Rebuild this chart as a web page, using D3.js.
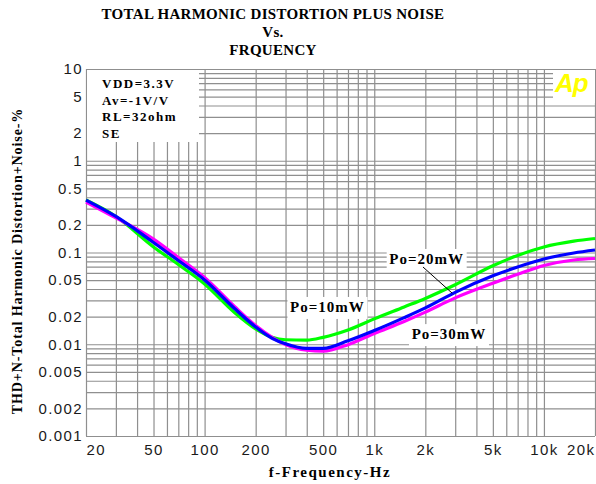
<!DOCTYPE html>
<html>
<head>
<meta charset="utf-8">
<script src="https://cdn.jsdelivr.net/npm/d3@7"></script>
<style>
  body { margin: 0; background: #fff; }
  svg { display: block; }
  .tick text { font-family: "Liberation Sans", Arial, sans-serif; font-size: 15px; letter-spacing: 1.4px; fill: #1a1a1a; }
  .grid line { stroke: #8f8f8f; stroke-width: 1.2px; }
  .serif { font-family: "Liberation Serif", "Times New Roman", serif; font-weight: bold; fill: #000; }
</style>
</head>
<body>
<svg id="chart" width="596" height="484"></svg>
<script>
// frequency points (Hz)
var freqHz = [20, 30, 50, 70, 100, 150, 200, 250, 300, 400, 500, 700, 1000, 1500, 2000, 3000, 5000, 7000, 10000, 15000, 20000];
// THD+N in %
var thd10mW = [0.373, 0.247, 0.115, 0.074, 0.0454, 0.0222, 0.0147, 0.0119, 0.0112, 0.0111, 0.0119, 0.0143, 0.0189, 0.0255, 0.0316, 0.0445, 0.0716, 0.093, 0.115, 0.133, 0.142];
var thd20mW = [0.373, 0.247, 0.1285, 0.0818, 0.0502, 0.0245, 0.0154, 0.0116, 0.0101, 0.0090, 0.0090, 0.0109, 0.0141, 0.0195, 0.0249, 0.0368, 0.0557, 0.0695, 0.0849, 0.0988, 0.1065];
var thd30mW = [0.355, 0.238, 0.140, 0.0882, 0.0534, 0.0258, 0.0160, 0.0119, 0.0099, 0.0086, 0.0084, 0.0099, 0.0131, 0.0177, 0.0224, 0.0320, 0.0462, 0.0578, 0.0722, 0.0829, 0.086];

var xTickValues = [20, 50, 100, 200, 500, 1000, 2000, 5000, 10000, 20000];
var xTickLabels = ["20", "50", "100", "200", "500", "1k", "2k", "5k", "10k", "20k"];
var yTickValues = [10, 5, 2, 1, 0.5, 0.2, 0.1, 0.05, 0.02, 0.01, 0.005, 0.002, 0.001];
var yTickLabels = ["10", "5", "2", "1", "0.5", "0.2", "0.1", "0.05", "0.02", "0.01", "0.005", "0.002", "0.001"];

var conditions = ["VDD=3.3V", "Av=-1V/V", "RL=32ohm", "SE"];

var svg = d3.select("#chart");
var padLeft = 86, padRight = 595, padTop = 69, padBottom = 436;

var xScale = d3.scaleLog().domain([20, 20000]).range([padLeft, padRight]);
var yScale = d3.scaleLog().domain([0.001, 10]).range([padBottom, padTop]);

// grid
svg.append("g")
    .attr("class", "grid")
    .attr("transform", "translate(0," + padBottom + ")")
    .call(d3.axisBottom(xScale).tickValues(xScale.ticks()).tickSize(-(padBottom - padTop)).tickFormat(""))
    .call(function (g) { g.select(".domain").remove(); });
svg.append("g")
    .attr("class", "grid")
    .attr("transform", "translate(" + padLeft + ",0)")
    .call(d3.axisLeft(yScale).tickValues(yScale.ticks()).tickSize(-(padRight - padLeft)).tickFormat(""))
    .call(function (g) { g.select(".domain").remove(); });

// white boxes behind the texts
svg.append("rect").attr("x", padLeft + 1).attr("y", padTop + 1).attr("width", 112).attr("height", 72).attr("fill", "#fff");
svg.append("rect").attr("x", 553).attr("y", padTop + 1).attr("width", 42).attr("height", 33).attr("fill", "#fff");

// axis labels
var yAxis = svg.append("g")
    .attr("transform", "translate(" + padLeft + ",0)")
    .call(d3.axisLeft(yScale).tickValues(yTickValues).tickSize(0).tickPadding(3)
        .tickFormat(function (d, i) { return yTickLabels[i]; }));
yAxis.select(".domain").remove();

var xAxis = svg.append("g")
    .attr("transform", "translate(0," + padBottom + ")")
    .call(d3.axisBottom(xScale).tickValues(xTickValues).tickSize(0).tickPadding(8)
        .tickFormat(function (d, i) { return xTickLabels[i]; }));
xAxis.select(".domain").remove();
xAxis.selectAll(".tick text")
    .attr("text-anchor", function (d, i) {
        if (i == 0) return "start";
        if (i == xTickValues.length - 1) return "end";
        return "middle";
    });

// curves
var line = d3.line()
    .x(function (d) { return xScale(d[0]); })
    .y(function (d) { return yScale(d[1]); })
    .curve(d3.curveMonotoneX);

var series = [
    { name: "Po=10mW", values: thd10mW, color: "#00ff00" },
    { name: "Po=30mW", values: thd30mW, color: "#ff00ff" },
    { name: "Po=20mW", values: thd20mW, color: "#0000ff" }
];
series.forEach(function (s) {
    svg.append("path")
        .datum(freqHz.map(function (f, i) { return [f, s.values[i]]; }))
        .attr("fill", "none")
        .attr("stroke", s.color)
        .attr("stroke-width", 3.2)
        .attr("d", line);
});

// condition texts
svg.selectAll(".cond")
    .data(conditions)
    .enter()
    .append("text")
    .attr("class", "serif")
    .attr("x", 102)
    .attr("y", function (d, i) { return 88 + i * 16.5; })
    .style("font-size", "13px")
    .style("letter-spacing", "1.5px")
    .text(function (d) { return d; });

// Ap logo
svg.append("text")
    .attr("x", 555)
    .attr("y", 92)
    .style("font-family", "Liberation Sans, Arial, sans-serif")
    .style("font-weight", "bold")
    .style("font-style", "italic")
    .style("font-size", "26px")
    .style("letter-spacing", "-1px")
    .attr("fill", "#ffff00")
    .text("Ap");

// curve labels
var labels = [
    { text: "Po=10mW", f: 530, v: 0.0255 },
    { text: "Po=20mW", f: 2037, v: 0.085 },
    { text: "Po=30mW", f: 2757, v: 0.0129 }
];
labels.forEach(function (l) {
    var cx = xScale(l.f), cy = yScale(l.v);
    svg.append("rect")
        .attr("x", cx - 40).attr("y", cy - 10)
        .attr("width", 80).attr("height", 22)
        .attr("fill", "#fff");
    svg.append("text")
        .attr("class", "serif")
        .attr("x", cx)
        .attr("y", cy + 5)
        .attr("text-anchor", "middle")
        .style("font-size", "15px")
        .style("letter-spacing", "1px")
        .text(l.text);
});

// leader for Po=20mW
svg.append("line")
    .attr("x1", xScale(1937)).attr("y1", yScale(0.0695))
    .attr("x2", xScale(2880)).attr("y2", yScale(0.036))
    .attr("stroke", "#000")
    .attr("stroke-width", 1);

// titles
var titleLines = ["TOTAL HARMONIC DISTORTION PLUS NOISE", "Vs.", "FRQUENCY"];
svg.selectAll(".title")
    .data(titleLines)
    .enter()
    .append("text")
    .attr("class", "serif")
    .attr("x", 273)
    .attr("y", function (d, i) { return [19, 37, 55][i]; })
    .attr("text-anchor", "middle")
    .style("font-size", "15px")
    .style("letter-spacing", "0.3px")
    .text(function (d) { return d; });

svg.append("text")
    .attr("class", "serif")
    .attr("x", 330)
    .attr("y", 477)
    .attr("text-anchor", "middle")
    .style("font-size", "15px")
    .style("letter-spacing", "1.5px")
    .text("f-Frequency-Hz");

svg.append("text")
    .attr("class", "serif")
    .attr("transform", "translate(22,261) rotate(-90)")
    .attr("text-anchor", "middle")
    .style("font-size", "14px")
    .style("letter-spacing", "0.9px")
    .text("THD+N-Total Harmonic Distortion+Noise-%");
</script>
</body>
</html>
